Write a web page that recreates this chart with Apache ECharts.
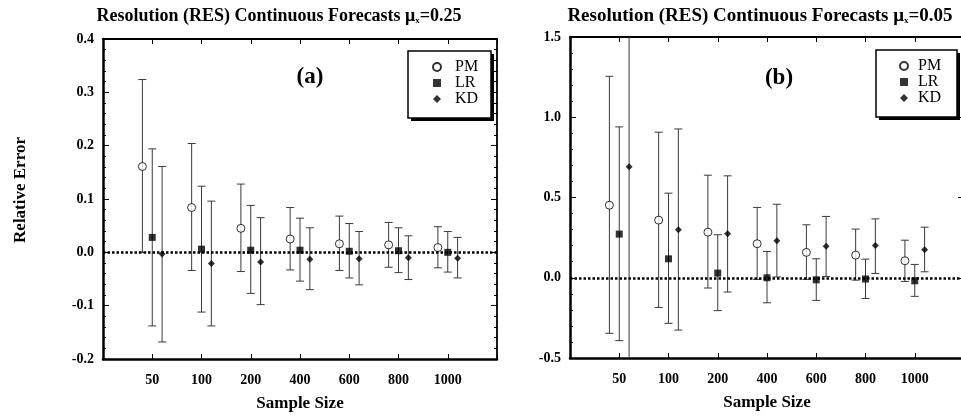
<!DOCTYPE html>
<html><head><meta charset="utf-8">
<script src="https://cdn.jsdelivr.net/npm/echarts@6/dist/echarts.min.js"></script>
<style>html,body{margin:0;padding:0;background:#fff}#c{width:961px;height:417px}</style>
</head><body><div id="c"></div>
<script>
// ---- data ----
const categories = ['50', '100', '200', '400', '600', '800', '1000'];
const seriesNames = ['PM', 'LR', 'KD'];
const titleA = 'Resolution (RES) Continuous Forecasts μ';
const titleSub = 'x';
const titleValA = '=0.25';
const titleValB = '=0.05';
const panelLabels = ['(a)', '(b)'];
const xAxisTitle = 'Sample Size';
const yAxisTitle = 'Relative Error';

// Panel (a)  mu_x = 0.25
const pmA_mean = [0.161, 0.084, 0.045, 0.025, 0.016, 0.014, 0.009];
const pmA_low  = [0.000, -0.034, -0.036, -0.033, -0.034, -0.028, -0.029];
const pmA_high = [0.324, 0.204, 0.128, 0.084, 0.068, 0.056, 0.048];
const lrA_mean = [0.028, 0.006, 0.004, 0.004, 0.002, 0.003, 0.000];
const lrA_low  = [-0.138, -0.112, -0.077, -0.054, -0.048, -0.038, -0.037];
const lrA_high = [0.194, 0.124, 0.088, 0.064, 0.054, 0.046, 0.039];
const kdA_mean = [-0.003, -0.021, -0.018, -0.013, -0.012, -0.010, -0.011];
const kdA_low  = [-0.168, -0.138, -0.098, -0.070, -0.061, -0.051, -0.048];
const kdA_high = [0.161, 0.096, 0.065, 0.046, 0.039, 0.031, 0.028];

// Panel (b)  mu_x = 0.05
const pmB_mean = [0.452, 0.359, 0.284, 0.212, 0.158, 0.141, 0.106];
const pmB_low  = [-0.346, -0.185, -0.064, -0.010, -0.010, -0.015, -0.023];
const pmB_high = [1.255, 0.907, 0.639, 0.438, 0.330, 0.303, 0.234];
const lrB_mean = [0.272, 0.118, 0.029, 0.000, -0.013, -0.008, -0.019];
const lrB_low  = [-0.392, -0.284, -0.205, -0.156, -0.141, -0.129, -0.116];
const lrB_high = [0.940, 0.527, 0.268, 0.164, 0.118, 0.116, 0.083];
const kdB_mean = [0.691, 0.299, 0.274, 0.230, 0.197, 0.201, 0.174];
const kdB_low  = [-0.700, -0.326, -0.089, 0.005, 0.008, 0.027, 0.037];
const kdB_high = [1.800, 0.927, 0.635, 0.458, 0.382, 0.367, 0.315];

const yRangeA = {min: -0.2, max: 0.4, interval: 0.1};
const yRangeB = {min: -0.5, max: 1.5, interval: 0.5};

// ---- build ----
const FONT = "'Liberation Serif', 'Times New Roman', serif";
const offsets = [-0.2, 0, 0.2];
const barColor = '#3a3a3a';

function errRender(params, api) {
  const x = api.value(0), lo = api.value(1), hi = api.value(2);
  const cs = params.coordSys;
  const top = cs.y, bottom = cs.y + cs.height;
  const pHi = api.coord([x, hi]);
  const pLo = api.coord([x, lo]);
  const cap = 4;
  const children = [];
  const yHi = Math.max(pHi[1], top), yLo = Math.min(pLo[1], bottom);
  children.push({type: 'line', shape: {x1: pHi[0], y1: yHi, x2: pLo[0], y2: yLo}, style: {stroke: barColor, lineWidth: 1}});
  if (pHi[1] >= top) children.push({type: 'line', shape: {x1: pHi[0] - cap, y1: pHi[1], x2: pHi[0] + cap, y2: pHi[1]}, style: {stroke: barColor, lineWidth: 1}});
  if (pLo[1] <= bottom) children.push({type: 'line', shape: {x1: pLo[0] - cap, y1: pLo[1], x2: pLo[0] + cap, y2: pLo[1]}, style: {stroke: barColor, lineWidth: 1}});
  return {type: 'group', children};
}

const symbols = [
  {symbol: 'circle', symbolSize: 8, itemStyle: {color: '#fff', borderColor: '#000', borderWidth: 1}},
  {symbol: 'rect', symbolSize: 7, itemStyle: {color: '#000'}},
  {symbol: 'diamond', symbolSize: 7, itemStyle: {color: '#000'}}
];

function panelSeries(gridIdx, groups) {
  const out = [];
  groups.forEach((g, k) => {
    out.push({
      type: 'custom', name: seriesNames[k] + '_err', xAxisIndex: gridIdx * 2, yAxisIndex: gridIdx * 2,
      renderItem: errRender, silent: true, z: 2,
      data: categories.map((c, i) => [i + 1 + offsets[k], g.low[i], g.high[i]])
    });
  });
  groups.forEach((g, k) => {
    out.push(Object.assign({
      type: 'scatter', name: seriesNames[k], xAxisIndex: gridIdx * 2, yAxisIndex: gridIdx * 2, z: 4,
      data: categories.map((c, i) => [i + 1 + offsets[k], g.mean[i]])
    }, symbols[k], k === 0 ? {
      markLine: {silent: true, symbol: 'none', label: {show: false},
        lineStyle: {color: '#000', width: 2.5, type: [2.5, 2]},
        data: [{yAxis: 0}]}
    } : {}));
  });
  return out;
}

const grids = [
  {left: 103, top: 39, width: 394, height: 320, outerBoundsMode: 'none', containLabel: false},
  {left: 570, top: 37, width: 394, height: 321, outerBoundsMode: 'none', containLabel: false}
];

function xAxes(gridIdx) {
  return [{
    type: 'value', gridIndex: gridIdx, position: 'bottom', min: 0, max: 8, interval: 1,
    name: xAxisTitle, nameLocation: 'middle', nameGap: 36,
    nameTextStyle: {fontFamily: FONT, fontWeight: 'bold', fontSize: 17, color: '#000'},
    axisLine: {onZero: false, lineStyle: {color: '#000', width: 2.5}},
    axisTick: {inside: true, length: 5, lineStyle: {color: '#000', width: 1}},
    axisLabel: {margin: 14, fontFamily: FONT, fontWeight: 'bold', fontSize: 14, color: '#000',
      formatter: v => (v >= 1 && v <= categories.length) ? categories[v - 1] : ''},
    splitLine: {show: false}
  }, {
    type: 'value', gridIndex: gridIdx, position: 'top', min: 0, max: 8, interval: 1,
    axisLine: {onZero: false, lineStyle: {color: '#000', width: 1.8}},
    axisTick: {inside: true, length: 5, lineStyle: {color: '#000', width: 1}},
    axisLabel: {show: false}, splitLine: {show: false}
  }];
}

function yAxes(gridIdx, range, withName) {
  const lab = {margin: 9, fontFamily: FONT, fontWeight: 'bold', fontSize: 14, color: '#000',
    formatter: v => v.toFixed(1)};
  return [{
    type: 'value', gridIndex: gridIdx, position: 'left', min: range.min, max: range.max, interval: range.interval,
    name: withName ? yAxisTitle : '', nameLocation: 'middle', nameRotate: 90, nameGap: 74,
    nameTextStyle: {fontFamily: FONT, fontWeight: 'bold', fontSize: 17, color: '#000', padding: [0, 0, 0, 18]},
    axisLine: {onZero: false, lineStyle: {color: '#000', width: 2.5}},
    axisTick: {inside: true, length: 6, lineStyle: {color: '#000', width: 1}},
    minorTick: {show: true, splitNumber: 5, length: 3, lineStyle: {color: '#000', width: 1}},
    axisLabel: lab, splitLine: {show: false}, minorSplitLine: {show: false}
  }, {
    type: 'value', gridIndex: gridIdx, position: 'right', min: range.min, max: range.max, interval: range.interval,
    axisLine: {onZero: false, lineStyle: {color: '#000', width: 1.8}},
    axisTick: {inside: true, length: 6, lineStyle: {color: '#000', width: 1}},
    minorTick: {show: true, splitNumber: 5, length: 3, lineStyle: {color: '#000', width: 1}},
    axisLabel: {show: false}, splitLine: {show: false}, minorSplitLine: {show: false}
  }];
}

function richTitle(size) {
  return {
    t: {fontFamily: FONT, fontWeight: 'bold', fontSize: size, color: '#000', lineHeight: 20},
    s: {fontFamily: FONT, fontWeight: 'bold', fontSize: 9, color: '#000', lineHeight: 20, padding: [9, 0, 0, 0]}
  };
}

function legendBox(x, y, w, h) {
  return [
    {type: 'rect', z: 1, shape: {x: x + 3, y: y + 3, width: w, height: h}, style: {fill: '#000'}},
    {type: 'rect', z: 1, shape: {x: x, y: y, width: w, height: h}, style: {fill: '#fff', stroke: '#000', lineWidth: 1.5}}
  ];
}

function legendCfg(left, top, pad) {
  return {
    orient: 'vertical', left: left, top: top, padding: 0, itemGap: 0, itemWidth: 8, itemHeight: 8,
    selectedMode: false, z: 10, data: seriesNames,
    formatter: '{n|{name}}',
    textStyle: {rich: {n: {fontFamily: FONT, fontSize: 16, color: '#000', lineHeight: 16.5, padding: [0, 0, 0, pad]}}}
  };
}

const option = {
  animation: false,
  backgroundColor: '#fff',
  title: [
    {text: '{t|' + titleA + '}{s|' + titleSub + '}{t|' + titleValA + '}', left: 274, top: 1, textAlign: 'center',
      textStyle: {rich: richTitle(18)}},
    {text: '{t|' + titleA + '}{s|' + titleSub + '}{t|' + titleValB + '}', left: 755, top: 1, textAlign: 'center',
      textStyle: {rich: richTitle(19)}}
  ],
  grid: grids,
  xAxis: [...xAxes(0), ...xAxes(1)],
  yAxis: [...yAxes(0, yRangeA, true), ...yAxes(1, yRangeB, false)],
  legend: [legendCfg(432, 59, 9), legendCfg(899, 58, 5)],
  graphic: [
    ...legendBox(408, 51, 83, 67),
    ...legendBox(876, 50, 81, 67),
    {type: 'text', z: 5, x: 310, y: 77, style: {text: panelLabels[0], font: "bold 23px 'Liberation Serif', serif", fill: '#000', align: 'center', verticalAlign: 'middle'}},
    {type: 'text', z: 5, x: 779, y: 78, style: {text: panelLabels[1], font: "bold 23px 'Liberation Serif', serif", fill: '#000', align: 'center', verticalAlign: 'middle'}}
  ],
  series: [
    ...panelSeries(0, [
      {mean: pmA_mean, low: pmA_low, high: pmA_high},
      {mean: lrA_mean, low: lrA_low, high: lrA_high},
      {mean: kdA_mean, low: kdA_low, high: kdA_high}]),
    ...panelSeries(1, [
      {mean: pmB_mean, low: pmB_low, high: pmB_high},
      {mean: lrB_mean, low: lrB_low, high: lrB_high},
      {mean: kdB_mean, low: kdB_low, high: kdB_high}])
  ]
};

const chart = echarts.init(document.getElementById('c'), null, {renderer: 'canvas'});
chart.setOption(option);
</script>
</body></html>
